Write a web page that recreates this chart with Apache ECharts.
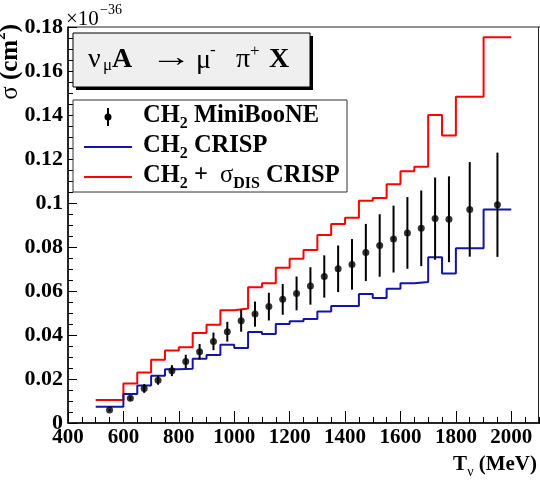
<!DOCTYPE html>
<html>
<head>
<meta charset="utf-8">
<script src="https://cdn.jsdelivr.net/npm/echarts@6/dist/echarts.min.js"></script>
<style>html,body{margin:0;padding:0;background:#fff;overflow:hidden}#c{width:540px;height:480px}</style>
</head>
<body>
<div id="c"></div>
<script>
// Histogram bin edges (MeV)
const binEdges = [500,600,650,700,750,800,850,900,950,1000,1050,1100,1150,1200,1250,1300,1350,1400,1450,1500,1550,1600,1650,1700,1750,1800,1900,2000];
// CH2 CRISP (x1e-36 cm^2)
const crispValues = [0.0074,0.0132,0.0171,0.0215,0.0244,0.0247,0.0292,0.0309,0.0356,0.0341,0.0414,0.0404,0.0450,0.0462,0.0473,0.0507,0.0532,0.0532,0.0586,0.0568,0.0610,0.0635,0.0641,0.0753,0.0679,0.0794,0.0971];
// CH2 + sigma_DIS CRISP
const crispDisValues = [0.0105,0.0180,0.0229,0.0288,0.0329,0.0344,0.0409,0.0447,0.0512,0.0520,0.0617,0.0635,0.0706,0.0747,0.0786,0.0854,0.0904,0.0933,0.1010,0.1023,0.1085,0.1144,0.1165,0.1400,0.1307,0.1483,0.1753];
// CH2 MiniBooNE data
const minibooneX = [550,625,675,725,775,825,875,925,975,1025,1075,1125,1175,1225,1275,1325,1375,1425,1475,1525,1575,1625,1675,1725,1775,1850,1950];
const minibooneY = [0.0059,0.0112,0.0157,0.0194,0.0238,0.0280,0.0324,0.0371,0.0415,0.0465,0.0495,0.0529,0.0562,0.0589,0.0623,0.0666,0.0701,0.0721,0.0775,0.0807,0.0836,0.0864,0.0885,0.0929,0.0926,0.0971,0.0992];
const minibooneErr = [0.0005,0.0010,0.0020,0.0020,0.0025,0.0030,0.0035,0.0040,0.0045,0.0050,0.0057,0.0063,0.0070,0.0077,0.0085,0.0096,0.0106,0.0115,0.0130,0.0142,0.0152,0.0163,0.0172,0.0187,0.0195,0.0215,0.0237];
// Axis ticks
const xMin = 400, xMax = 2200, xMajor = 200;
const yMin = 0, yMax = 0.18, yMajor = 0.02;

function histLine(edges, vals) {
  const out = [];
  for (let i = 0; i < vals.length; i++) {
    out.push([edges[i], vals[i]]);
    out.push([edges[i + 1], vals[i]]);
  }
  return out;
}

const FONT = 'Liberation Serif';
const chart = echarts.init(document.getElementById('c'), null, {renderer: 'canvas'});

const rich = (big, small) => ({
  n: {fontFamily: FONT, fontSize: big, fontWeight: 'normal', color: '#000', lineHeight: big + 8},
  b: {fontFamily: FONT, fontSize: big, fontWeight: 'bold', color: '#000', lineHeight: big + 8},
  s: {fontFamily: FONT, fontSize: small, fontWeight: 'normal', color: '#000', lineHeight: small, verticalAlign: 'bottom'},
  sb: {fontFamily: FONT, fontSize: small, fontWeight: 'bold', color: '#000', lineHeight: small, verticalAlign: 'bottom'},
  sp: {fontFamily: FONT, fontSize: small, fontWeight: 'normal', color: '#000', lineHeight: small, verticalAlign: 'top'},
  spb: {fontFamily: FONT, fontSize: small, fontWeight: 'bold', color: '#000', lineHeight: small, verticalAlign: 'top'}
});

function txt(s, x, y, size, bold, extra) {
  return Object.assign({type: 'text', x: x, y: y, z: 12, style: {
    text: s, fontFamily: FONT, fontSize: size, fontWeight: bold ? 'bold' : 'normal', fill: '#000',
    textAlign: 'left', textVerticalAlign: 'middle'}}, extra || {});
}

// plot frame: x from 400 at 68px to 2100 at 539px; axis extent continues to 2200 beyond the frame edge
const pxPerUnit = 471 / 1700;
const gridBox = {left: 68, top: 27, width: (xMax - xMin) * pxPerUnit, height: 396};

const option = {
  animation: false,
  backgroundColor: '#fff',
  grid: [Object.assign({show: true, borderColor: '#222', borderWidth: 1, backgroundColor: 'transparent',
    containLabel: false, outerBoundsMode: 'none'}, gridBox)],
  xAxis: [{
    type: 'value', min: xMin, max: xMax, interval: xMajor,
    axisLine: {show: true, onZero: false, lineStyle: {color: '#000', width: 1.5}},
    axisTick: {show: true, inside: true, length: 12, lineStyle: {color: '#000', width: 1}},
    minorTick: {show: true, splitNumber: 4, length: 6, lineStyle: {color: '#000', width: 1}},
    splitLine: {show: false},
    axisLabel: {showMaxLabel: false, margin: 4, fontFamily: FONT, fontWeight: 'bold', fontSize: 21, color: '#000',
      formatter: v => String(v)}
  }],
  yAxis: [{
    type: 'value', min: yMin, max: yMax, interval: yMajor,
    axisLine: {show: true, onZero: false, lineStyle: {color: '#000', width: 1.5}},
    axisTick: {show: true, inside: true, length: 9, lineStyle: {color: '#000', width: 1}},
    minorTick: {show: true, splitNumber: 4, length: 5, lineStyle: {color: '#000', width: 1}},
    splitLine: {show: false},
    axisLabel: {margin: 5, fontFamily: FONT, fontWeight: 'bold', fontSize: 22, color: '#000',
      formatter: v => v === 0 ? '0' : String(+v.toFixed(3))}
  }],
  series: [
    {type: 'line', name: 'CH2 + sigma_DIS CRISP', data: histLine(binEdges, crispDisValues), symbol: 'none',
     lineStyle: {color: '#ff0000', width: 2}, z: 3},
    {type: 'line', name: 'CH2 CRISP', data: histLine(binEdges, crispValues), symbol: 'none',
     lineStyle: {color: '#1414a8', width: 2}, z: 3},
    {type: 'custom', name: 'errors', z: 4,
     data: minibooneX.map((x, i) => [x, minibooneY[i], minibooneErr[i]]),
     renderItem: (params, api) => {
       const x = api.value(0), y = api.value(1), e = api.value(2);
       const t = api.coord([x, y + e]), b = api.coord([x, y - e]);
       return {type: 'line', shape: {x1: t[0], y1: t[1], x2: b[0], y2: b[1]}, style: {stroke: '#000', lineWidth: 2}};
     }},
    {type: 'scatter', name: 'CH2 MiniBooNE', z: 5, data: minibooneX.map((x, i) => [x, minibooneY[i]]),
     symbol: 'circle', symbolSize: 7, itemStyle: {color: '#000'}}
  ],
  graphic: [
    // right edge of the plot frame
    {type: 'line', shape: {x1: 538.5, y1: 27, x2: 538.5, y2: 423}, style: {stroke: '#222', lineWidth: 1}, z: 9},
    // title box
    {type: 'rect', shape: {x: 76, y: 36, width: 237, height: 54}, style: {fill: '#000'}, z: 10},
    {type: 'rect', shape: {x: 73, y: 33, width: 237, height: 54}, style: {fill: '#efefef', stroke: '#000', lineWidth: 1}, z: 11},
    txt('ν', 88, 60, 28, false),
    txt('μ', 103, 66, 17, false),
    txt('A', 112, 60, 28, true),
    txt('→', 150, 59, 28, false, {scaleX: 1.5}),
    txt('μ', 196, 61, 28, false),
    txt('-', 210, 51, 17, false),
    txt('π', 236, 60, 28, false),
    txt('+', 250, 52, 17, false),
    txt('X', 269, 60, 28, true),
    // legend box
    {type: 'rect', shape: {x: 73, y: 100, width: 274, height: 92}, style: {fill: '#fff', stroke: '#333', lineWidth: 1}, z: 10},
    {type: 'line', shape: {x1: 108, y1: 108, x2: 108, y2: 126}, style: {stroke: '#000', lineWidth: 2}, z: 11},
    {type: 'circle', shape: {cx: 108, cy: 117, r: 3.5}, style: {fill: '#000'}, z: 11},
    {type: 'line', shape: {x1: 84, y1: 147, x2: 132, y2: 147}, style: {stroke: '#1414a8', lineWidth: 2}, z: 11},
    {type: 'line', shape: {x1: 84, y1: 177, x2: 132, y2: 177}, style: {stroke: '#ff0000', lineWidth: 2}, z: 11},
    {type: 'text', x: 143, y: 116, z: 12, style: {text: '{b|CH}{sb|2}{b| MiniBooNE}', rich: rich(24.5, 16), textVerticalAlign: 'middle'}},
    {type: 'text', x: 143, y: 146, z: 12, style: {text: '{b|CH}{sb|2}{b| CRISP}', rich: rich(24.5, 16), textVerticalAlign: 'middle'}},
    {type: 'text', x: 143, y: 176, z: 12, style: {text: '{b|CH}{sb|2}{b| +  }{n|σ}{sb|DIS}{b| CRISP}', rich: rich(24.5, 16), textVerticalAlign: 'middle'}},
    // axis exponent
    txt('×10', 66, 19, 21, false),
    txt('−36', 100, 10, 14, false),
    // y title
    {type: 'text', x: 27, y: 24, rotation: Math.PI / 2, z: 12, style: {
      text: '{n|σ}{b| (cm}{spb|2}{b|)}', rich: rich(25, 15), textAlign: 'right', textVerticalAlign: 'bottom'}},
    // x title
    {type: 'text', x: 537, y: 465, z: 12, style: {
      text: '{b|T}{s|ν}{b| (MeV)}', rich: rich(21, 14), textAlign: 'right', textVerticalAlign: 'middle'}}
  ]
};
chart.setOption(option);
</script>
</body>
</html>
